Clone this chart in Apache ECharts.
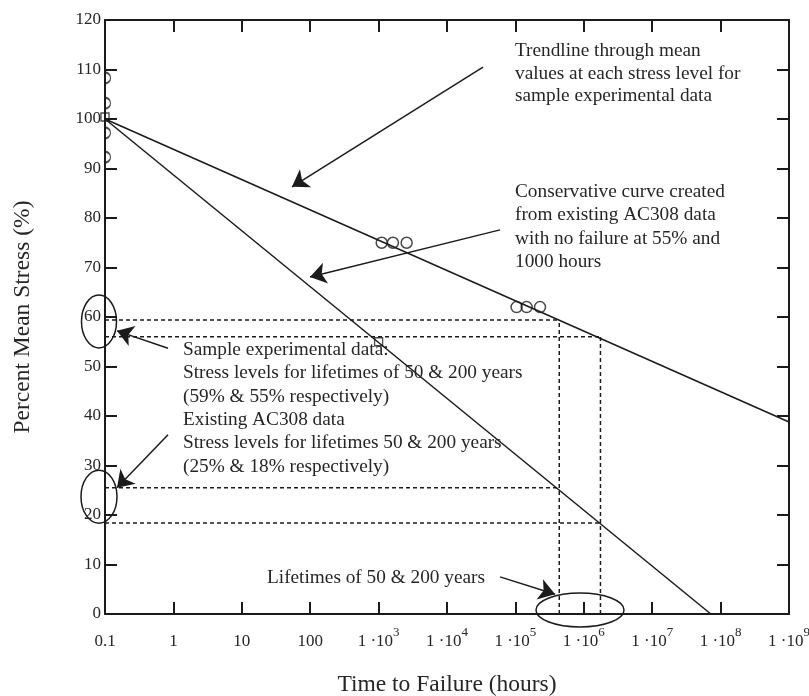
<!DOCTYPE html>
<html>
<head>
    <meta charset="utf-8">
    <title>Percent Mean Stress vs Time to Failure</title>
    <script src="https://cdn.jsdelivr.net/npm/echarts@6/dist/echarts.min.js"></script>
    <style>
        html, body { margin: 0; padding: 0; background: #fff; }
        #chart { width: 809px; height: 696px; }
    </style>
</head>
<body>
<div id="chart"></div>
<script type="text/javascript">
    // 数据
    var trendX = [0.1, 1e9];
    var trendY = [100, 38.8];
    var consX = [0.1, 7.2e7];
    var consY = [100, 0];

    var lifeHours = [438000, 1752000];      // 50 & 200 years
    var sampleStress = [59.4, 56.0];
    var existingStress = [25.5, 18.4];

    var axisCircles = [108.3, 103.2, 97.2, 92.3];   // at 0.1 h
    var level75X = [1110, 1620, 2570];
    var level75Y = [75, 75, 75];
    var level62X = [1.04e5, 1.46e5, 2.29e5];
    var level62Y = [62, 62, 62];
    var squaresX = [0.1, 1000];
    var squaresY = [100.4, 55];

    var yTicks = [0, 10, 20, 30, 40, 50, 60, 70, 80, 90, 100, 110, 120];
    var decades = [-1, 9];   // log10 range of the time axis

    // arrows: [fromX, fromY, toX, toY] in data units
    var arrows = [
        [3.36e4, 110.5, 54.2, 86.3],
        [5.96e4, 77.6, 99.3, 68.1],
        [0.834, 53.7, 0.1496, 57.2],
        [0.834, 36.2, 0.1496, 25.5],
        [5.96e4, 7.5, 3.8e5, 4.0]
    ];
    // ellipses: centre in data units, radii in px
    var ellipses = [
        [0.0817, 59.1, 17.5, 26.5],
        [0.0817, 23.7, 18, 26.5],
        [8.8e5, 0.8, 44, 17]
    ];

    var FONT = 'Liberation Serif, DejaVu Serif, serif';
    var INK = '#1b1b1b';
    var TXT = '#262626';

    function pairs(xs, ys) {
        return xs.map(function (x, i) { return [x, ys[i]]; });
    }

    var dashed = [];
    lifeHours.forEach(function (h, i) {
        dashed.push([[0.1, sampleStress[i]], [h, sampleStress[i]]]);
        dashed.push([[h, 0], [h, sampleStress[i]]]);
        dashed.push([[0.1, existingStress[i]], [h, existingStress[i]]]);
    });

    function xLabel(v) {
        var e = Math.round(Math.log10(v));
        if (e <= 2) return '{a|' + (e < 0 ? '0.1' : String(Math.pow(10, e))) + '}';
        return '{a|1 \u00b710}{s|' + e + '}';
    }

    var series = [
        { type: 'line', data: pairs(trendX, trendY), symbol: 'none',
          lineStyle: { color: INK, width: 1.5 } },
        { type: 'line', data: pairs(consX, consY), symbol: 'none',
          lineStyle: { color: INK, width: 1.5 } }
    ];
    dashed.forEach(function (seg) {
        series.push({ type: 'line', data: seg, symbol: 'none',
            lineStyle: { color: INK, width: 1.5, type: [4, 3] } });
    });
    series.push({
        type: 'scatter',
        data: axisCircles.map(function (y) { return [0.1, y]; }),
        symbol: 'path://M0,0A5,5,0,0,1,0,10',
        symbolSize: [5.5, 11], symbolOffset: [2.75, 0],
        itemStyle: { color: 'transparent', borderColor: INK, borderWidth: 1.5 }
    });
    series.push({
        type: 'scatter',
        data: pairs(level75X, level75Y).concat(pairs(level62X, level62Y)),
        symbol: 'circle', symbolSize: 11,
        itemStyle: { color: 'transparent', borderColor: INK, borderWidth: 1.5 }
    });
    series.push({
        type: 'scatter', data: pairs(squaresX, squaresY),
        symbol: 'rect', symbolSize: 8,
        itemStyle: { color: 'transparent', borderColor: INK, borderWidth: 1.3 }
    });
    series.push({
        type: 'line', data: [], silent: true,
        markLine: {
            silent: true, animation: false,
            symbol: ['none', 'arrow'], symbolSize: 16,
            label: { show: false },
            lineStyle: { color: INK, width: 1.5, type: 'solid' },
            itemStyle: { color: INK },
            data: arrows.map(function (a) {
                return [{ coord: [a[0], a[1]] }, { coord: [a[2], a[3]] }];
            })
        }
    });

    var tickStyle = { show: true, inside: true, length: 12, lineStyle: { color: INK, width: 2 } };
    var lineStyle = { show: true, onZero: false, lineStyle: { color: INK, width: 2 } };

    var myChart = echarts.init(document.getElementById('chart'));
    myChart.setOption({
        animation: false,
        backgroundColor: '#fff',
        grid: { left: 105, right: 20, top: 20, bottom: 82, outerBoundsMode: 'none', containLabel: false },
        xAxis: [{
            type: 'log', logBase: 10, min: 0.1, max: 1e9, splitNumber: 10,
            name: 'Time to Failure (hours)', nameLocation: 'middle', nameGap: 59,
            nameTextStyle: { fontFamily: FONT, fontSize: 23.5, color: TXT },
            axisLine: lineStyle, axisTick: tickStyle, splitLine: { show: false },
            minorTick: { show: false },
            axisLabel: {
                margin: 12, formatter: xLabel, showMinLabel: true, showMaxLabel: true,
                rich: {
                    a: { fontFamily: FONT, fontSize: 17, color: TXT, lineHeight: 31 },
                    s: { fontFamily: FONT, fontSize: 13, color: TXT, lineHeight: 12, verticalAlign: 'top' }
                }
            }
        }, {
            // top frame edge with a tick per decade
            type: 'value', min: decades[0], max: decades[1], interval: 1, position: 'top',
            axisLine: lineStyle, axisTick: tickStyle, splitLine: { show: false },
            axisLabel: { show: false }
        }],
        yAxis: [{
            type: 'value', min: yTicks[0], max: yTicks[yTicks.length - 1], interval: 10,
            name: 'Percent Mean Stress (%)', nameLocation: 'middle', nameGap: 70,
            nameTextStyle: { fontFamily: FONT, fontSize: 23.5, color: TXT },
            axisLine: lineStyle, axisTick: tickStyle, splitLine: { show: false },
            axisLabel: { margin: 4, fontFamily: FONT, fontSize: 17, color: TXT }
        }, {
            type: 'value', min: yTicks[0], max: yTicks[yTicks.length - 1], interval: 10, position: 'right',
            axisLine: lineStyle, axisTick: tickStyle, splitLine: { show: false },
            axisLabel: { show: false }
        }],
        series: series
    });

    // 注释文字和椭圆
    var notes = [
        [515, 40, 22.5, 'Trendline through mean\nvalues at each stress level for\nsample experimental data'],
        [515, 180, 23.5, 'Conservative curve created\nfrom existing AC308 data\nwith no failure at 55% and\n1000 hours'],
        [183, 338, 23.4, 'Sample experimental data:\nStress levels for lifetimes of 50 & 200 years\n(59% & 55% respectively)\nExisting AC308 data\nStress levels for lifetimes 50 & 200 years\n(25% & 18% respectively)'],
        [267, 566, 23, 'Lifetimes of 50 & 200 years']
    ];
    var graphics = notes.map(function (n) {
        return { type: 'text', left: n[0], top: n[1], z: 10,
            style: { text: n[3], fontFamily: FONT, fontSize: 19.3, lineHeight: n[2], fill: TXT } };
    });
    ellipses.forEach(function (e) {
        var p = myChart.convertToPixel({ seriesIndex: 0 }, [e[0], e[1]]);
        graphics.push({ type: 'ellipse', z: 10,
            shape: { cx: p[0], cy: p[1], rx: e[2], ry: e[3] },
            style: { fill: 'none', stroke: INK, lineWidth: 1.5 } });
    });
    myChart.setOption({ graphic: graphics });
</script>
</body>
</html>
